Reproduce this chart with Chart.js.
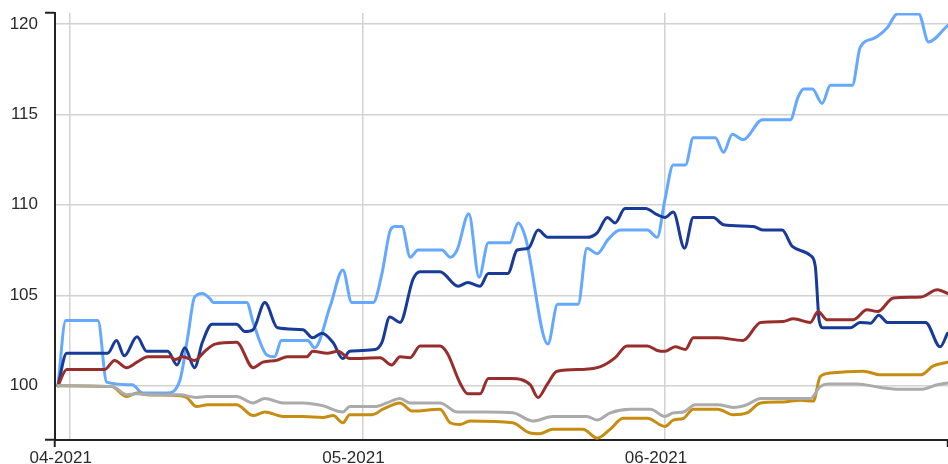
<!DOCTYPE html>
<html>
<head>
<meta charset="utf-8">
<script src="https://cdn.jsdelivr.net/npm/chart.js@4/dist/chart.umd.min.js"></script>
<style>
html,body{margin:0;padding:0;background:#fff;}
#wrap{width:948px;height:464px;position:relative;}
</style>
</head>
<body>
<div id="wrap"><canvas id="c" width="948" height="464"></canvas></div>
<script>
// x values: days since 2021-04-01
const monthTicks = [0, 30, 61];
const monthLabels = ['04-2021', '05-2021', '06-2021'];
const yTicks = [100, 105, 110, 115, 120];
const xMin = -1.5, xMax = 90;
const yMin = 97, yMax = 120.6;

const lightBlueX = [-1.2,-0.4,2.9,3.8,6.4,7.5,10.0,11.3,12.1,12.8,13.6,14.4,14.7,18.15,18.8,20.2,21.0,21.7,24.4,25.1,26.7,28.0,28.9,31.1,32.0,32.8,33.3,34.05,34.9,35.7,38.15,39.0,39.7,40.9,41.95,42.9,45.1,45.95,46.7,49.0,50.0,52.1,53.0,54.05,55.2,56.4,59.2,60.2,61.0,61.85,63.1,63.9,66.15,67.0,67.9,69.0,71.0,73.85,74.6,75.2,76.1,77.1,77.95,80.2,81.0,82.4,83.8,84.8,87.0,88.0,89.95];
const lightBlueY = [100,103.6,103.6,100.2,100.05,99.6,99.6,100.3,102.7,104.9,105.1,104.8,104.6,104.6,103.5,101.7,101.6,102.5,102.5,102.1,104.4,106.4,104.6,104.6,106.2,108.5,108.8,108.8,107.1,107.5,107.5,107.1,107.5,109.5,106.0,107.9,107.9,109.0,108.2,102.3,104.5,104.5,107.6,107.3,108.1,108.6,108.6,108.2,110.3,112.2,112.2,113.7,113.7,112.9,113.9,113.6,114.7,114.7,115.9,116.4,116.4,115.6,116.6,116.6,118.7,119.2,119.8,120.55,120.55,119.0,119.9];

const darkBlueX = [-1.2,-0.3,3.9,4.8,5.6,6.9,7.9,10.05,11.0,11.8,12.8,13.6,14.6,17.1,17.95,18.8,20.0,21.3,23.9,24.9,25.85,26.97,28.0,28.7,31.3,32.0,32.8,33.85,35.2,35.9,37.95,39.8,40.8,42.05,42.9,44.9,45.85,47.0,48.0,49.0,53.0,54.05,55.1,55.9,56.9,59.0,60.2,61.0,61.85,63.0,63.9,65.95,67.0,70.05,71.1,73.0,74.05,75.9,76.4,76.8,77.2,80.0,81.0,82.05,82.9,83.8,87.7,89.2,89.95];
const darkBlueY = [100,101.8,101.8,102.5,101.65,102.7,101.9,101.9,101.15,102.1,101.0,102.4,103.4,103.4,103.0,103.1,104.6,103.2,103.1,102.65,102.9,102.4,101.5,101.9,102.0,102.4,103.8,103.5,105.9,106.3,106.3,105.5,105.7,105.5,106.2,106.2,107.5,107.6,108.6,108.2,108.2,108.45,109.3,109.0,109.8,109.8,109.45,109.3,109.6,107.6,109.3,109.3,108.9,108.8,108.6,108.6,107.7,107.2,106.6,103.6,103.2,103.2,103.5,103.45,103.9,103.5,103.5,102.15,102.9];

const darkRedX = [-1.2,-0.3,3.6,4.6,5.85,6.9,8.0,10.3,10.8,11.6,12.8,13.85,14.9,17.1,18.8,19.8,21.2,22.3,24.3,24.9,26.4,27.5,28.7,31.8,33.0,33.85,34.9,35.9,37.95,38.7,40.0,40.8,42.05,42.9,45.3,46.2,47.2,48.0,48.9,49.95,52.6,54.4,55.9,57.1,59.2,60.2,61.0,62.05,63.1,63.9,66.4,69.0,70.8,73.1,74.15,75.9,76.7,77.6,80.3,81.7,82.8,84.4,87.2,88.9,89.95];
const darkRedY = [100,100.9,100.9,101.4,101.0,101.3,101.6,101.6,101.45,101.6,101.4,101.9,102.3,102.4,101.0,101.3,101.4,101.6,101.6,101.9,101.8,101.9,101.5,101.55,101.15,101.6,101.55,102.2,102.2,101.8,100.15,99.55,99.55,100.4,100.4,100.35,100.05,99.35,100.05,100.8,100.9,101.05,101.55,102.2,102.2,101.95,101.9,102.15,102.0,102.65,102.65,102.5,103.5,103.55,103.7,103.5,104.1,103.65,103.65,104.2,104.1,104.85,104.9,105.3,105.1];

const goldX = [-1.2,4.3,5.85,6.9,7.9,11.3,12.0,13.0,14.15,17.1,18.8,20.0,21.85,23.9,25.95,27.0,28.0,28.7,31.0,32.1,33.85,35.1,37.95,39.0,40.0,41.0,45.4,47.1,48.2,49.5,52.6,54.05,55.4,56.7,59.2,61.0,61.85,62.9,63.9,66.4,68.0,69.4,70.8,73.1,74.9,76.2,76.9,77.95,81.3,83.1,87.2,88.5,89.95];
const goldY = [100,99.95,99.4,99.6,99.5,99.45,99.35,98.85,98.95,98.95,98.35,98.55,98.3,98.3,98.25,98.35,97.95,98.4,98.4,98.7,99.05,98.6,98.7,97.95,97.85,98.05,97.95,97.4,97.35,97.6,97.6,97.1,97.6,98.2,98.2,97.75,98.1,98.2,98.7,98.7,98.4,98.5,99.05,99.1,99.2,99.15,100.5,100.7,100.8,100.6,100.6,101.1,101.3];

const greyX = [-1.2,4.4,5.85,6.9,8.2,11.3,13.0,14.05,17.1,18.8,20.0,21.85,23.9,25.9,28.0,28.7,31.3,32.5,33.85,34.9,37.95,39.7,42.8,45.4,47.5,49.5,53.0,54.05,55.4,57.4,59.5,61.0,61.85,62.9,64.1,66.4,68.0,69.4,70.8,75.9,76.9,77.7,80.7,83.1,85.1,87.2,88.9,89.95];
const greyY = [100,99.95,99.5,99.55,99.5,99.5,99.35,99.4,99.4,99.05,99.3,99.05,99.05,98.9,98.55,98.85,98.85,99.05,99.3,99.05,99.05,98.55,98.55,98.5,98.05,98.3,98.3,98.1,98.5,98.7,98.7,98.3,98.5,98.55,98.95,98.95,98.8,98.95,99.3,99.3,99.95,100.1,100.1,99.9,99.8,99.8,100.05,100.15];

function pts(xs, ys) { return xs.map((x, i) => ({ x: x, y: ys[i] })); }

const FONT = { family: '"Liberation Sans", Arial, sans-serif', size: 17 };
const xAll = [xMin].concat(monthTicks, [xMax]);
const yAll = [yMin].concat(yTicks, [yMax]);

function ds(label, xs, ys, color) {
  return {
    label: label, data: pts(xs, ys), borderColor: color, backgroundColor: color,
    borderWidth: 3, pointRadius: 0, pointHoverRadius: 0, cubicInterpolationMode: 'monotone',
    borderJoinStyle: 'round', borderCapStyle: 'round', fill: false
  };
}

new Chart(document.getElementById('c'), {
  type: 'line',
  data: {
    datasets: [
      ds('grey', greyX, greyY, '#ababab'),
      ds('gold', goldX, goldY, '#c68d12'),
      ds('red', darkRedX, darkRedY, '#982e2b'),
      ds('darkblue', darkBlueX, darkBlueY, '#183b98'),
      ds('lightblue', lightBlueX, lightBlueY, '#64a8ff')
    ]
  },
  options: {
    responsive: false,
    animation: false,
    events: [],
    layout: { padding: { top: 13, right: 0, left: 0, bottom: 0 } },
    plugins: { legend: { display: false }, tooltip: { enabled: false }, title: { display: false } },
    scales: {
      x: {
        type: 'linear', min: xMin, max: xMax,
        afterBuildTicks: (s) => { s.ticks = xAll.map(v => ({ value: v })); },
        afterFit: (s) => { s.height = 24; s.paddingLeft = 0; s.paddingRight = 0; },
        border: { display: true, color: '#222', width: 2 },
        grid: {
          drawOnChartArea: true, drawTicks: true, tickLength: 7,
          lineWidth: 1.5,
          color: (ctx) => (ctx.tick && monthTicks.includes(ctx.tick.value)) ? '#d2d2d2' : 'rgba(0,0,0,0)',
          tickColor: (ctx) => (ctx.tick && monthTicks.includes(ctx.tick.value)) ? 'rgba(0,0,0,0)' : '#222',
          tickWidth: 2
        },
        ticks: {
          autoSkip: false, maxRotation: 0, padding: 1, labelOffset: -9,
          color: '#2a2a2a', font: FONT,
          callback: (v) => { const i = monthTicks.indexOf(v); return i >= 0 ? monthLabels[i] : ''; }
        }
      },
      y: {
        type: 'linear', min: yMin, max: yMax,
        afterBuildTicks: (s) => { s.ticks = yAll.map(v => ({ value: v })); },
        afterFit: (s) => { s.width = 55; s.paddingTop = 0; s.paddingBottom = 0; },
        border: { display: true, color: '#222', width: 2 },
        grid: {
          drawOnChartArea: true, drawTicks: true, tickLength: 10,
          lineWidth: 1.5,
          color: (ctx) => (ctx.tick && yTicks.includes(ctx.tick.value)) ? '#d2d2d2' : 'rgba(0,0,0,0)',
          tickColor: (ctx) => (ctx.tick && yTicks.includes(ctx.tick.value)) ? 'rgba(0,0,0,0)' : '#222',
          tickWidth: 2
        },
        ticks: {
          autoSkip: false, padding: 7, color: '#2a2a2a', font: FONT,
          callback: (v) => yTicks.includes(v) ? String(v) : ''
        }
      }
    }
  }
});
</script>
</body>
</html>
